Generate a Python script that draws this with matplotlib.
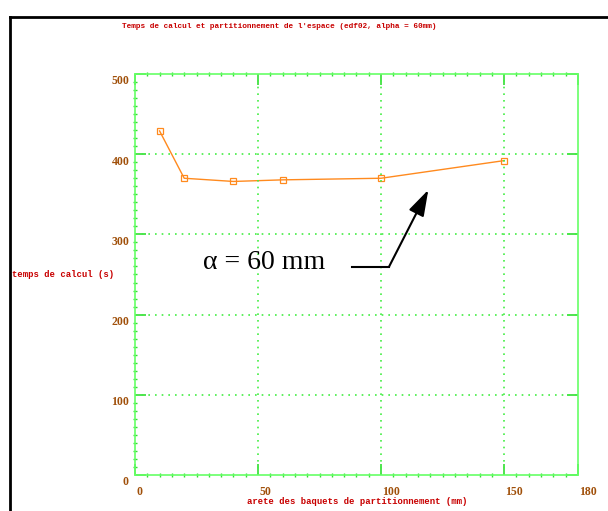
import matplotlib.pyplot as plt
from matplotlib.lines import Line2D
from matplotlib.ticker import MultipleLocator

# data
arete = [10, 20, 40, 60, 100, 150]  # mm
temps = [429, 370, 366, 368, 370, 392]  # s
xticks = [0, 50, 100, 150, 180]
yticks = [0, 100, 200, 300, 400, 500]

title = "Temps de calcul et partitionnement de l'espace (edf02, alpha = 60mm)"
xlabel = "arete des baquets de partitionnement (mm)"
ylabel = "temps de calcul (s)"

red = "#c80000"
brown = "#a0500a"
green = "#44ee44"
orange = "#ff8a1e"
mono = ["Liberation Mono", "DejaVu Sans Mono"]

fig = plt.figure(figsize=(6.08, 5.11), dpi=100)
ax = fig.add_axes([0.222, 0.0705, 0.7286, 0.7847])

ax.plot(arete, temps, color=orange, lw=1.0, marker="s", ms=4,
        mfc="none", mec=orange, mew=0.9)

ax.set_xlim(0, 180)
ax.set_ylim(0, 500)

## grid and frame
for x in [50, 100, 150]:
    ax.axvline(x, color=green, lw=1.2, ls=(0, (1, 3)))
for y in [100, 200, 300, 400]:
    ax.axhline(y, color=green, lw=1.2, ls=(0, (1, 3)))
for s in ax.spines.values():
    s.set_color("#66ff66")
    s.set_linewidth(1.2)

ax.xaxis.set_minor_locator(MultipleLocator(5))
ax.yaxis.set_minor_locator(MultipleLocator(10))
ax.tick_params(which="major", direction="in", length=8, width=1.2,
               color="#33dd33", top=True, right=True)
ax.tick_params(which="minor", direction="inout", length=3, width=1,
               color="#33dd33", top=True, right=False)
ax.set_xticks(xticks)
ax.set_yticks(yticks)
ax.set_xticklabels([])
ax.set_yticklabels([])

# tick labels placed by hand like the original output
for x in xticks:
    ax.annotate(str(x), (x, 0), xytext=(1, -8), textcoords="offset points",
                ha="left", va="top", color=brown, fontsize=8.5,
                family="Liberation Serif", fontweight="bold")
for y in yticks:
    dx = -5 if y == 0 else -4
    ax.annotate(str(y), (0, y), xytext=(dx, -1), textcoords="offset points",
                ha="right", va="top", color=brown, fontsize=8.5,
                family="Liberation Serif", fontweight="bold")

## titles
fig.text(0.459, 0.949, title, ha="center", va="center", color=red,
         fontsize=5.6, family=mono, fontweight="bold")
fig.text(0.587, 0.018, xlabel, ha="center", va="center", color=red,
         fontsize=6.4, family=mono, fontweight="bold")
fig.text(0.02, 0.462, ylabel, ha="left", va="center", color=red,
         fontsize=6.4, family=mono, fontweight="bold")

## annotation
ax.text(27.5, 257, "\u03b1 = 60 mm", ha="left", va="baseline", fontsize=20,
        family="Liberation Serif")
ax.plot([88, 103.2], [259.5, 259.5], color="black", lw=1.5)
ax.annotate("", xy=(119.2, 355.5), xytext=(103.2, 259.5),
            arrowprops=dict(arrowstyle="-|>,head_length=1.6,head_width=0.5",
                            color="black", lw=1.5, shrinkA=0, shrinkB=0))

# black page border (left and top)
fig.add_artist(Line2D([0.016, 0.016], [0, 0.967], color="black", lw=2))
fig.add_artist(Line2D([0.016, 1], [0.967, 0.967], color="black", lw=2))

fig.savefig("out.png", dpi=100)
